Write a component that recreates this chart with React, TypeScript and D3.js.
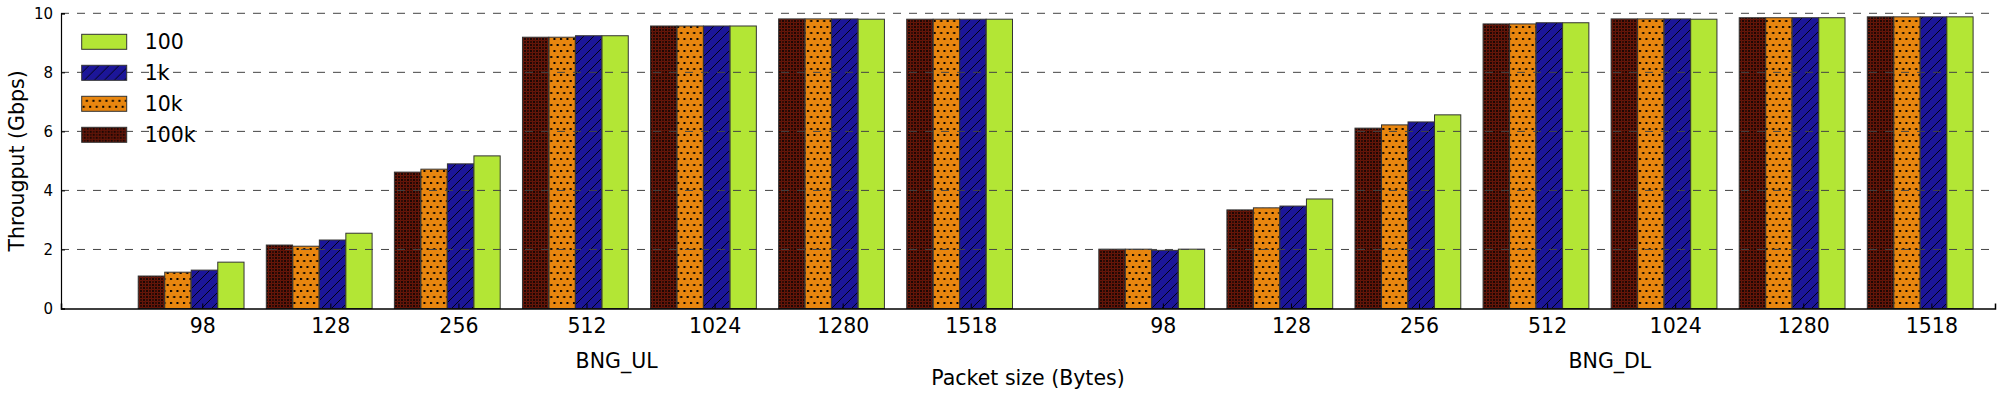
import { useEffect, useRef } from "react";
import * as d3 from "d3";

// packet sizes shown under each group
const sizes = ["98", "128", "256", "512", "1024", "1280", "1518"];
const groups = ["BNG_UL", "BNG_DL"];
const groupOffsets = [0, 7.5];
const groupLabelPos = [3.735, 11.49];

// series in drawing order (left to right in every cluster)
const seriesNames = ["100k", "10k", "1k", "100"];
const legendOrder = ["100", "1k", "10k", "100k"];

const ul100k = [1.1, 2.15, 4.62, 9.19, 9.57, 9.81, 9.8];
const ul10k = [1.23, 2.11, 4.72, 9.19, 9.57, 9.81, 9.8];
const ul1k = [1.3, 2.32, 4.9, 9.24, 9.57, 9.81, 9.8];
const ul100 = [1.57, 2.55, 5.17, 9.24, 9.57, 9.8, 9.8];

const dl100k = [2.01, 3.34, 6.11, 9.64, 9.81, 9.85, 9.88];
const dl10k = [2.01, 3.41, 6.22, 9.64, 9.81, 9.85, 9.88];
const dl1k = [1.97, 3.47, 6.32, 9.68, 9.81, 9.85, 9.88];
const dl100 = [2.01, 3.71, 6.56, 9.68, 9.8, 9.85, 9.88];

const yTicks = [0, 2, 4, 6, 8, 10];

export default function App() {
  const svgRef = useRef<SVGSVGElement | null>(null);

  useEffect(() => {
    const width = 2000;
    const height = 400;
    const margin = { top: 13.3, right: 5, bottom: 91.5, left: 61 };
    const font = "'DejaVu Sans', sans-serif";

    const svg = d3.select(svgRef.current);
    svg.selectAll("*").remove();
    svg.attr("width", width).attr("height", height).style("background", "#fff");

    const values: Record<string, number[][]> = {
      "100k": [ul100k, dl100k],
      "10k": [ul10k, dl10k],
      "1k": [ul1k, dl1k],
      "100": [ul100, dl100],
    };

    const xScale = d3
      .scaleLinear()
      .domain([-0.603, 14.497])
      .range([margin.left, width - margin.right]);

    const yScale = d3
      .scaleLinear()
      .domain([0, 10])
      .range([height - margin.bottom, margin.top]);

    // hatch patterns
    const defs = svg.append("defs");

    const pCircle = defs
      .append("pattern")
      .attr("id", "pat-100k")
      .attr("patternUnits", "userSpaceOnUse")
      .attr("width", 6)
      .attr("height", 6);
    pCircle.append("rect").attr("width", 6).attr("height", 6).attr("fill", "#1c0704");
    [[0, 0], [6, 0], [0, 6], [6, 6], [3, 3]].forEach(([cx, cy]) => {
      pCircle
        .append("circle")
        .attr("cx", cx)
        .attr("cy", cy)
        .attr("r", 1.8)
        .attr("fill", "none")
        .attr("stroke", "#7a1809")
        .attr("stroke-width", 0.9);
    });

    const pDot = defs
      .append("pattern")
      .attr("id", "pat-10k")
      .attr("patternUnits", "userSpaceOnUse")
      .attr("width", 6.5)
      .attr("height", 12);
    pDot.append("rect").attr("width", 6.5).attr("height", 12).attr("fill", "#e8860f");
    pDot.append("rect").attr("x", 1).attr("y", 2).attr("width", 2).attr("height", 2).attr("fill", "#000");
    pDot.append("rect").attr("x", 4.2).attr("y", 8).attr("width", 2).attr("height", 2).attr("fill", "#000");

    const pLine = defs
      .append("pattern")
      .attr("id", "pat-1k")
      .attr("patternUnits", "userSpaceOnUse")
      .attr("width", 10)
      .attr("height", 10);
    pLine.append("rect").attr("width", 10).attr("height", 10).attr("fill", "#1c1699");
    pLine
      .append("path")
      .attr("d", "M-2,2 L2,-2 M0,10 L10,0 M8,12 L12,8")
      .attr("stroke", "#000")
      .attr("stroke-width", 0.9);

    const fills: Record<string, string> = {
      "100k": "url(#pat-100k)",
      "10k": "url(#pat-10k)",
      "1k": "url(#pat-1k)",
      "100": "#b3e635",
    };

    const barStep = 0.207;
    const barWidth = 0.205;

    // bars
    const bars: { x: number; v: number; s: string }[] = [];
    groups.forEach((g, gi) => {
      sizes.forEach((_, i) => {
        seriesNames.forEach((s, si) => {
          bars.push({ x: groupOffsets[gi] + i + si * barStep, v: values[s][gi][i], s });
        });
      });
    });

    svg
      .append("g")
      .selectAll("rect")
      .data(bars)
      .enter()
      .append("rect")
      .attr("x", (d) => xScale(d.x))
      .attr("y", (d) => yScale(d.v))
      .attr("width", xScale(barWidth) - xScale(0))
      .attr("height", (d) => yScale(0) - yScale(d.v))
      .attr("fill", (d) => fills[d.s])
      .attr("stroke", "#333")
      .attr("stroke-width", 1);

    // dashed grid on top
    svg
      .append("g")
      .selectAll("line")
      .data(yTicks.filter((t) => t > 0))
      .enter()
      .append("line")
      .attr("x1", margin.left)
      .attr("x2", width - margin.right)
      .attr("y1", (d) => yScale(d))
      .attr("y2", (d) => yScale(d))
      .attr("stroke", "#444")
      .attr("stroke-width", 1)
      .attr("stroke-dasharray", "8,8");

    // y axis
    const yAxis = d3
      .axisLeft(yScale)
      .tickValues(yTicks)
      .tickSize(-4)
      .tickPadding(8)
      .tickFormat(d3.format("d"));
    const yG = svg.append("g").attr("transform", `translate(${margin.left},0)`).call(yAxis);
    yG.select(".domain").attr("stroke", "#000").attr("stroke-width", 1.2);
    yG.selectAll("text").style("font-family", font).style("font-size", "15px").attr("fill", "#000");

    // x axis
    const tickPos: number[] = [];
    const tickLab: string[] = [];
    groupOffsets.forEach((off) => {
      sizes.forEach((s, i) => {
        tickPos.push(off + i + 0.5);
        tickLab.push(s);
      });
    });
    const xAxis = d3
      .axisBottom(xScale)
      .tickValues(tickPos)
      .tickSize(-5)
      .tickPadding(10)
      .tickFormat((_, i) => tickLab[i]);
    const xG = svg
      .append("g")
      .attr("transform", `translate(0, ${yScale(0)})`)
      .call(xAxis);
    xG.select(".domain").attr("stroke", "#000").attr("stroke-width", 1.5);
    xG.selectAll("text").style("font-family", font).style("font-size", "20.5px").attr("fill", "#000");

    // group labels
    groups.forEach((g, gi) => {
      svg
        .append("text")
        .attr("x", xScale(groupLabelPos[gi]))
        .attr("y", 368)
        .attr("text-anchor", "middle")
        .style("font-family", font)
        .style("font-size", "20.5px")
        .text(g);
    });

    svg
      .append("text")
      .attr("x", (margin.left + width - margin.right) / 2)
      .attr("y", 385)
      .attr("text-anchor", "middle")
      .style("font-family", font)
      .style("font-size", "20.5px")
      .text("Packet size (Bytes)");

    svg
      .append("text")
      .attr("transform", `translate(24, ${(yScale(0) + yScale(10)) / 2}) rotate(-90)`)
      .attr("text-anchor", "middle")
      .style("font-family", font)
      .style("font-size", "20.5px")
      .text("Througput (Gbps)");

    // legend
    const legend = svg.append("g").attr("transform", "translate(81.7, 41.8)");
    legendOrder.forEach((s, i) => {
      const row = legend.append("g").attr("transform", `translate(0, ${i * 31})`);
      row
        .append("rect")
        .attr("x", 0)
        .attr("y", -7.5)
        .attr("width", 45)
        .attr("height", 15)
        .attr("fill", fills[s])
        .attr("stroke", "#333")
        .attr("stroke-width", 1);
      row
        .append("text")
        .attr("x", 63)
        .attr("y", 7.5)
        .style("font-family", font)
        .style("font-size", "20.5px")
        .text(s);
    });
  }, []);

  return (
    <svg
      ref={svgRef}
      style={{ position: "absolute", left: 0, top: 0, display: "block" }}
    ></svg>
  );
}
